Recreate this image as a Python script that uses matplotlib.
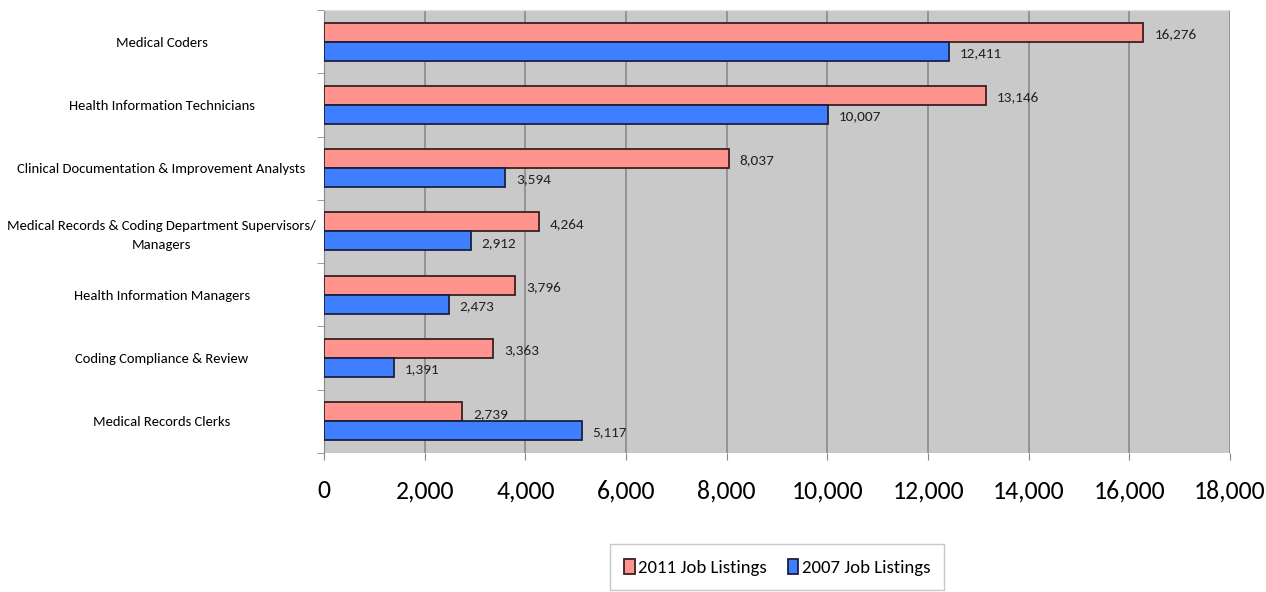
import numpy as np
import matplotlib.pyplot as plt
from matplotlib.ticker import FuncFormatter, FixedLocator

plt.rcParams['font.family'] = ['Carlito', 'DejaVu Sans']

categories = [
    'Medical Coders',
    'Health Information Technicians',
    'Clinical Documentation & Improvement Analysts',
    'Medical Records & Coding Department Supervisors/\nManagers',
    'Health Information Managers',
    'Coding Compliance & Review',
    'Medical Records Clerks',
]
listings_2011 = [16276, 13146, 8037, 4264, 3796, 3363, 2739]
listings_2007 = [12411, 10007, 3594, 2912, 2473, 1391, 5117]

pink = '#FF948F'
blue = '#3F7FFF'

fig = plt.figure(figsize=(12.66, 5.92), dpi=100)
ax = fig.add_axes([0.256, 0.235, 0.7156, 0.748])
ax.set_facecolor('#C9C9C9')

n = len(categories)
y = np.arange(n)[::-1]
h = 0.3

b1 = ax.barh(y + h / 2, listings_2011, height=h, color=pink, edgecolor='#3a2020',
             linewidth=1.3, label='2011 Job Listings', zorder=3)
b2 = ax.barh(y - h / 2, listings_2007, height=h, color=blue, edgecolor='#1a2040',
             linewidth=1.3, label='2007 Job Listings', zorder=3)

for v, yy in zip(listings_2011, y):
    ax.text(v + 220, yy + h / 2 - 0.03, f'{v:,}', va='center', ha='left', fontsize=11, color='#222222')
for v, yy in zip(listings_2007, y):
    ax.text(v + 220, yy - h / 2 - 0.03, f'{v:,}', va='center', ha='left', fontsize=11, color='#222222')

ax.set_xlim(0, 18000)
ax.set_ylim(-0.5, n - 0.5)
ax.set_xticks(np.arange(0, 18001, 2000))
ax.xaxis.set_major_formatter(FuncFormatter(lambda v, p: f'{int(v):,}'))
ax.tick_params(axis='x', labelsize=18.5, length=5, color='#888888', pad=14)
ax.grid(axis='x', color='#8a8a8a', linewidth=1.2, zorder=0)

ax.set_yticks(y)
ax.set_yticklabels(categories, fontsize=10.5, ha='center', linespacing=1.7)
ax.tick_params(axis='y', length=0, pad=117)
ax.yaxis.set_minor_locator(FixedLocator(np.arange(-0.5, n, 1)))
ax.tick_params(axis='y', which='minor', length=5, color='#888888')

for s in ['right', 'bottom']:
    ax.spines[s].set_visible(False)
ax.spines['top'].set_color('#e0e0e0')
ax.spines['left'].set_color('#888888')

fig.legend(handles=[b1, b2], loc='center', bbox_to_anchor=(0.614, 0.042), ncol=2,
           fontsize=13.5, frameon=True, fancybox=False, edgecolor='#bbbbbb',
           handlelength=0.55, handleheight=0.9, handletextpad=0.2, columnspacing=1.1,
           borderpad=0.75, borderaxespad=0)

fig.savefig('out.png', dpi=100)
